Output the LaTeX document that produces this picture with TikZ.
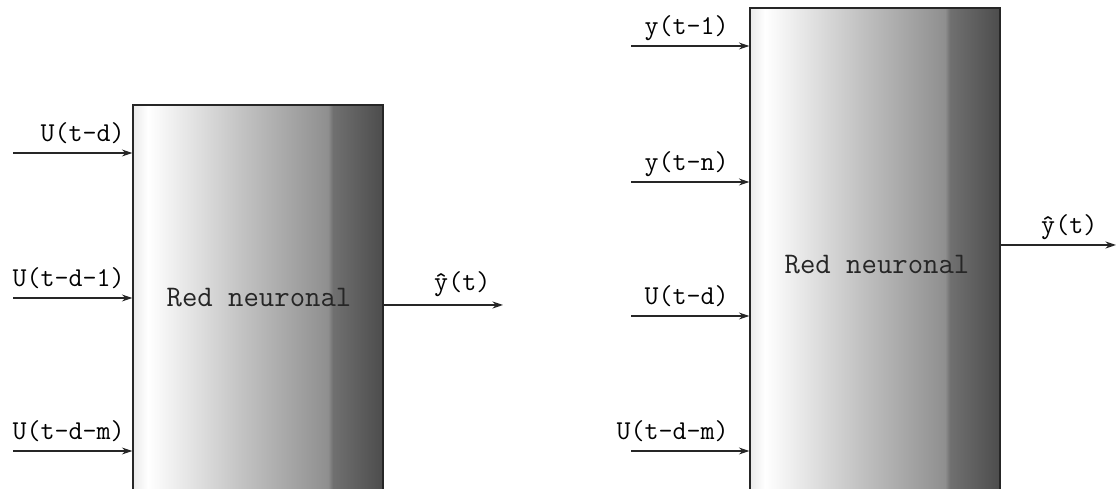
\documentclass[tikz,border=0pt]{standalone}
\usepackage{fontspec}
\usetikzlibrary{arrows.meta}
\pgfdeclarehorizontalshading{netshade}{100bp}{color(0bp)=(black!8); color(25bp)=(black!8); color(28bp)=(white); color(47bp)=(black!24); color(64bp)=(black!44); color(65bp)=(black!56); color(75bp)=(black!70); color(100bp)=(black!70)}
\begin{document}
\begin{tikzpicture}[x=0.02cm,y=-0.02cm,font=\fontsize{15.5}{18}\selectfont\ttfamily,
  netbox/.style={draw=black!85,line width=0.7pt,shading=netshade,inner sep=0pt,minimum width=5cm},
  nettext/.style={font=\fontsize{17}{20}\selectfont\ttfamily,text=black!85},
  lbl/.style={inner sep=0pt,anchor=base east,yshift=0.22cm},
  flow/.style={->,line width=0.75pt,draw=black!85},
  >={Stealth[length=6pt,width=4pt]}]
\useasboundingbox (0,0) rectangle (1117,489);
\node[netbox,minimum height=7.72cm] (netA) at (258,298) {};
\node[netbox,minimum height=9.66cm] (netB) at (875,249.5) {};
\node[nettext] (txtA) at (259,298) {Red neuronal};
\node[nettext] (txtB) at (877,265) {Red neuronal};
\foreach \y/\txt [count=\i] in {153/{U(t-d)},298/{U(t-d-1)},451/{U(t-d-m)}}{
  \coordinate (inA\i) at (13,\y);
  \draw[flow] (inA\i) -- (netA.west |- inA\i) node[lbl,pos=1,xshift=-0.14cm] {\txt};
}
\foreach \y/\txt [count=\i] in {46/{y(t-1)},182/{y(t-n)},316/{U(t-d)},451/{U(t-d-m)}}{
  \coordinate (inB\i) at (631,\y);
  \draw[flow] (inB\i) -- (netB.west |- inB\i) node[lbl,pos=1,xshift=-0.4cm] {\txt};
}
\coordinate (outA) at (503,305);
\coordinate (outB) at (1116,245);
\draw[flow] (netA.east |- outA) -- (outA) node[lbl,pos=0,anchor=base west,xshift=1cm,yshift=0.06cm] {\^{y}(t)};
\draw[flow] (netB.east |- outB) -- (outB) node[lbl,pos=0,anchor=base west,xshift=0.8cm] {\^{y}(t)};
\end{tikzpicture}
\end{document}
